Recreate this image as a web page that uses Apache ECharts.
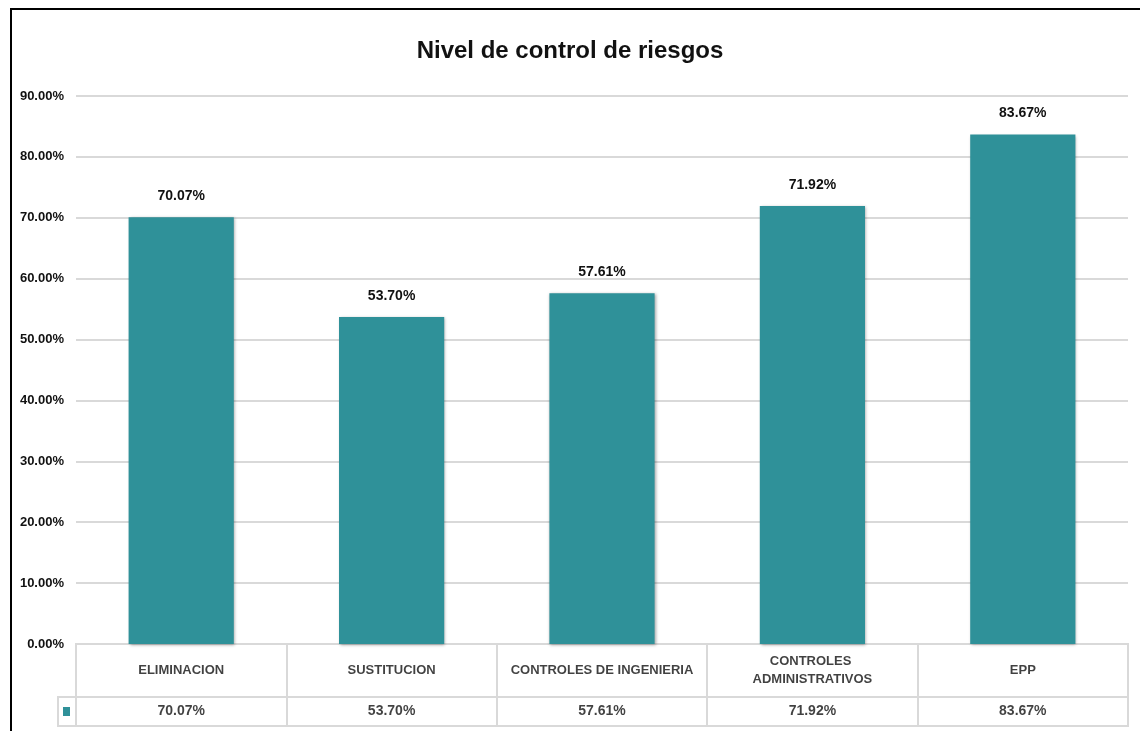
<!DOCTYPE html>
<html>
<head>
<meta charset="utf-8">
<script src="https://cdn.jsdelivr.net/npm/echarts@6/dist/echarts.min.js"></script>
<style>
  html, body { margin: 0; padding: 0; background: #fff; }
  #chart { width: 1140px; height: 731px; }
</style>
</head>
<body>
<div id="chart"></div>
<script>
// datos del grafico
var categorias = ['ELIMINACION', 'SUSTITUCION', 'CONTROLES DE INGENIERIA', 'CONTROLES ADMINISTRATIVOS', 'EPP'];
var valores = [70.07, 53.70, 57.61, 71.92, 83.67];
var nombreSerie = 'Nivel de control';
var yMin = 0, yMax = 90, yPaso = 10;

var fuente = "'Liberation Sans', Arial, sans-serif";
var colorBarra = '#2f9199';
var colorLinea = '#d9d9d9';

function pct(v) { return v.toFixed(2) + '%'; }

var chart = echarts.init(document.getElementById('chart'));

// celdas de la tabla de datos (filas de nombres y valores)
var celdasNombre = categorias.map(function (c, i) { return { value: [i, 0.5], texto: c }; });
var celdasValor = valores.map(function (v, i) { return { value: [i, 0.5], texto: pct(v) }; });

var ejeTabla = function (idx) {
  return {
    type: 'category', gridIndex: idx, data: categorias, boundaryGap: true,
    axisLine: { show: false }, axisTick: { show: false }, axisLabel: { show: false, interval: 0 },
    splitLine: { show: true, interval: 0, lineStyle: { color: colorLinea, width: 2 } }
  };
};
var ejeYTabla = function (idx) {
  return { type: 'value', gridIndex: idx, min: 0, max: 1, show: false, splitLine: { show: false } };
};

var option = {
  backgroundColor: '#fff',
  animation: false,
  textStyle: { fontFamily: fuente },
  title: {
    text: 'Nivel de control de riesgos',
    left: 'center', top: 34,
    textStyle: { fontFamily: fuente, fontSize: 24, fontWeight: 'bold', color: '#111' }
  },
  legend: {
    data: [nombreSerie], left: 58, top: 702, icon: 'rect',
    itemWidth: 7, itemHeight: 9, formatter: function () { return ''; },
    textStyle: { fontSize: 1 }
  },
  grid: [
    { left: 76, right: 12, top: 96, bottom: 87 },
    { left: 76, right: 12, top: 644, height: 53, show: true, borderColor: colorLinea, borderWidth: 2 },
    { left: 76, right: 12, top: 697, height: 29, show: true, borderColor: colorLinea, borderWidth: 2 }
  ],
  xAxis: [
    { type: 'category', gridIndex: 0, data: categorias, axisLine: { show: false },
      axisTick: { show: false }, axisLabel: { show: false } },
    ejeTabla(1), ejeTabla(2)
  ],
  yAxis: [
    { type: 'value', gridIndex: 0, min: yMin, max: yMax, interval: yPaso,
      axisLabel: { formatter: pct, fontFamily: fuente, fontSize: 13, fontWeight: 'bold', color: '#111', margin: 12 },
      splitLine: { lineStyle: { color: colorLinea, width: 2 } },
      axisLine: { show: false }, axisTick: { show: false } },
    ejeYTabla(1), ejeYTabla(2)
  ],
  graphic: [
    { type: 'rect', shape: { x: 58, y: 697, width: 18, height: 29 },
      style: { fill: 'none', stroke: colorLinea, lineWidth: 2 }, z: 10 },
    { type: 'rect', shape: { x: 11, y: 9, width: 1300, height: 900 },
      style: { fill: 'none', stroke: '#000', lineWidth: 2 }, z: 10 }
  ],
  series: [
    {
      name: nombreSerie, type: 'bar', xAxisIndex: 0, yAxisIndex: 0,
      data: valores, barWidth: '50%',
      itemStyle: { color: colorBarra, shadowColor: 'rgba(0,0,0,0.35)', shadowBlur: 3, shadowOffsetX: 1, shadowOffsetY: 1 },
      label: { show: true, position: 'top', distance: 14, formatter: function (p) { return pct(p.value); },
        fontFamily: fuente, fontSize: 14, fontWeight: 'bold', color: '#111' }
    },
    {
      type: 'scatter', xAxisIndex: 1, yAxisIndex: 1, data: celdasNombre, symbolSize: 1,
      itemStyle: { color: 'rgba(0,0,0,0)' }, silent: true,
      label: { show: true, position: 'inside', formatter: function (p) { return p.data.texto; },
        fontFamily: fuente, fontSize: 13, fontWeight: 'bold', color: '#111', textBorderWidth: 0,
        width: 195, overflow: 'break', align: 'center', lineHeight: 18 }
    },
    {
      type: 'scatter', xAxisIndex: 2, yAxisIndex: 2, data: celdasValor, symbolSize: 1,
      itemStyle: { color: 'rgba(0,0,0,0)' }, silent: true,
      label: { show: true, position: 'inside', formatter: function (p) { return p.data.texto; },
        fontFamily: fuente, fontSize: 14, fontWeight: 'bold', color: '#111', textBorderWidth: 0 }
    }
  ]
};

chart.setOption(option);
</script>
</body>
</html>
